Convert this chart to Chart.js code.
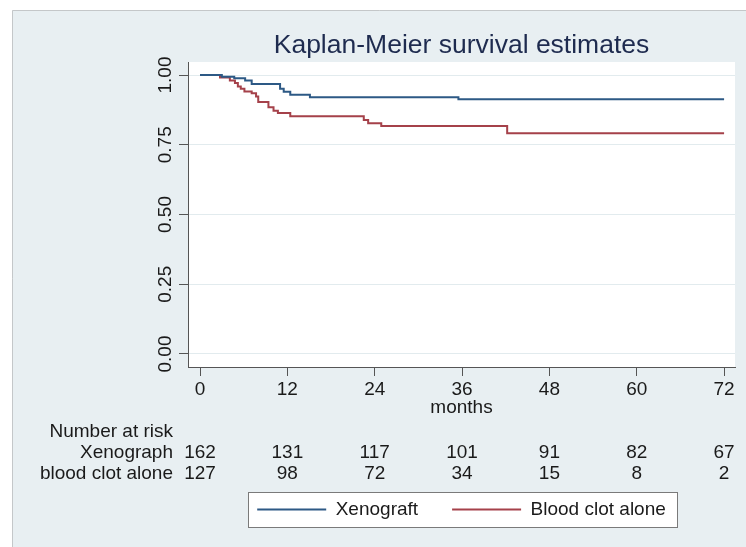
<!DOCTYPE html>
<html>
<head>
<meta charset="utf-8">
<title>Kaplan-Meier survival estimates</title>
<script src="https://cdn.jsdelivr.net/npm/chart.js@4.4.1/dist/chart.umd.min.js"></script>
<style>
  html, body { margin: 0; padding: 0; background: #fff; }
  canvas { display: block; }
</style>
</head>
<body>
<canvas id="kmChart" width="746" height="547"></canvas>
<script>
// month of each step and the survival estimate after it
var xenoMonths = [0, 3.0, 4.7, 6.2, 7.1, 11.0, 11.5, 12.4, 15.1, 35.5, 72];
var xenoSurv   = [1, 0.994, 0.988, 0.980, 0.968, 0.951, 0.940, 0.929, 0.920, 0.913, 0.913];

var clotMonths = [0, 2.75, 4.1, 4.8, 5.2, 5.6, 6.1, 7.1, 7.7, 8.0, 9.4, 10.1, 10.7, 12.4, 22.5, 23.1, 24.9, 42.2, 72];
var clotSurv   = [1, 0.991, 0.980, 0.971, 0.959, 0.951, 0.941, 0.935, 0.923, 0.903, 0.884, 0.872, 0.864, 0.852, 0.839, 0.827, 0.817, 0.791, 0.791];

var monthTicks = [0, 12, 24, 36, 48, 60, 72];
var survTicks  = [0, 0.25, 0.5, 0.75, 1];

// number at risk table
var riskHeader = "Number at risk";
var riskRowLabels = ["Xenograph", "blood clot alone"];
var xenoAtRisk = [162, 131, 117, 101, 91, 82, 67];
var clotAtRisk = [127, 98, 72, 34, 15, 8, 2];

var FONT = '"Liberation Sans", Arial, sans-serif';
var TEXT = '#1a1a1a';
var FS = 19;
Chart.defaults.font.family = FONT;
Chart.defaults.color = TEXT;

function toPoints(xs, ys) {
  return xs.map(function (x, i) { return { x: x, y: ys[i] }; });
}

var stataFrame = {
  id: 'stataFrame',
  beforeDraw: function (chart) {
    var ctx = chart.ctx, a = chart.chartArea;
    ctx.save();
    ctx.fillStyle = '#ffffff';
    ctx.fillRect(0, 0, chart.width, chart.height);
    ctx.fillStyle = '#e8eff2';
    ctx.fillRect(12, 10, chart.width - 12, chart.height - 10);
    ctx.strokeStyle = '#c4c7c9';
    ctx.lineWidth = 1;
    ctx.beginPath();
    ctx.moveTo(12.5, chart.height);
    ctx.lineTo(12.5, 10.5);
    ctx.lineTo(chart.width, 10.5);
    ctx.stroke();
    ctx.fillStyle = '#ffffff';
    ctx.fillRect(a.left, a.top, a.width, a.height);

    // frame round the legend
    var hb = chart.legend && chart.legend.legendHitBoxes;
    if (hb && hb.length) {
      var first = hb[0], last = hb[hb.length - 1];
      var cy = first.top + first.height / 2;
      var l = Math.round(first.left - 9) + 0.5;
      var r = Math.round(last.left + last.width + 11) + 0.5;
      var t = Math.round(cy - 17.5) + 0.5;
      ctx.fillStyle = '#ffffff';
      ctx.fillRect(l, t, r - l, 35);
      ctx.strokeStyle = '#7a7a7a';
      ctx.strokeRect(l, t, r - l, 35);
    }
    ctx.restore();
  },
  afterDraw: function (chart) {
    var ctx = chart.ctx, a = chart.chartArea, xs = chart.scales.x;
    ctx.save();
    ctx.font = FS + 'px ' + FONT;
    ctx.fillStyle = TEXT;
    ctx.textBaseline = 'middle';
    ctx.textAlign = 'right';
    var lx = a.left - 15;
    ctx.fillText(riskHeader, lx, a.bottom + 65);
    ctx.fillText(riskRowLabels[0], lx, a.bottom + 86);
    ctx.fillText(riskRowLabels[1], lx, a.bottom + 107);
    ctx.textAlign = 'center';
    monthTicks.forEach(function (m, i) {
      var px = xs.getPixelForValue(m);
      ctx.fillText(String(xenoAtRisk[i]), px, a.bottom + 86);
      ctx.fillText(String(clotAtRisk[i]), px, a.bottom + 107);
    });
    ctx.restore();
  }
};

new Chart(document.getElementById('kmChart').getContext('2d'), {
  type: 'line',
  data: {
    datasets: [
      {
        label: 'Xenograft',
        data: toPoints(xenoMonths, xenoSurv),
        borderColor: '#2d5985',
        backgroundColor: '#2d5985',
        borderWidth: 2,
        stepped: 'before',
        pointRadius: 0,
        fill: false
      },
      {
        label: 'Blood clot alone',
        data: toPoints(clotMonths, clotSurv),
        borderColor: '#a5414a',
        backgroundColor: '#a5414a',
        borderWidth: 2,
        stepped: 'before',
        pointRadius: 0,
        fill: false
      }
    ]
  },
  options: {
    responsive: false,
    animation: false,
    devicePixelRatio: 1,
    layout: { padding: { left: 128, right: 11, top: 0, bottom: 18 } },
    scales: {
      x: {
        type: 'linear',
        min: -1.65,
        max: 73.5,
        afterBuildTicks: function (s) { s.ticks = monthTicks.map(function (v) { return { value: v }; }); },
        afterFit: function (s) { s.height = 99; },
        ticks: {
          font: { size: FS },
          color: TEXT,
          padding: 2,
          maxRotation: 0,
          callback: function (v) { return String(v); }
        },
        grid: { drawOnChartArea: false, drawTicks: true, tickLength: 9, tickColor: '#555' },
        border: { display: true, color: '#555', width: 1 },
        title: {
          display: true,
          text: 'months',
          color: TEXT,
          font: { size: FS },
          padding: { top: 0, bottom: 46.5 }
        }
      },
      y: {
        min: -0.0466,
        max: 1.0466,
        afterBuildTicks: function (s) { s.ticks = survTicks.map(function (v) { return { value: v }; }); },
        afterFit: function (s) { s.width = 60; },
        ticks: {
          font: { size: FS },
          color: TEXT,
          minRotation: 90,
          maxRotation: 90,
          crossAlign: 'center',
          padding: -5,
          callback: function (v) { return v.toFixed(2); }
        },
        grid: { color: '#e2ebee', lineWidth: 1, tickLength: 9, tickColor: '#555' },
        border: { display: true, color: '#555', width: 1 }
      }
    },
    plugins: {
      title: {
        display: true,
        text: 'Kaplan-Meier survival estimates',
        color: '#1e2b4f',
        fullSize: false,
        font: { size: 26.5, weight: 'normal' },
        padding: { top: 30, bottom: 0.2 }
      },
      legend: {
        display: true,
        position: 'bottom',
        fullSize: false,
        labels: {
          usePointStyle: true,
          pointStyle: 'line',
          pointStyleWidth: 69,
          boxHeight: FS,
          padding: 34,
          color: TEXT,
          font: { size: FS }
        }
      },
      tooltip: { enabled: false }
    }
  },
  plugins: [stataFrame]
});
</script>
</body>
</html>
